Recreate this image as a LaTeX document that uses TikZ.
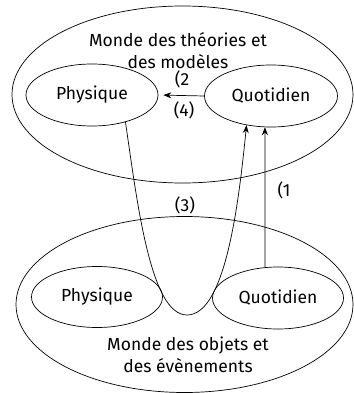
\documentclass[tikz,border=0pt]{standalone}
\usepackage{fontspec}
\setmainfont{Fira Sans}
\usetikzlibrary{shapes.geometric,arrows.meta,calc}
\begin{document}
\begin{tikzpicture}[x=1pt,y=-1pt,
  every node/.style={font=\fontsize{17.5}{22}\selectfont},
  ell/.style={draw,ellipse,inner sep=0pt,line width=0.7pt},
  lbl/.style={inner sep=0pt,align=center},
  arr/.style={line width=0.7pt,-{Stealth[length=8pt,width=6pt]}}]
\useasboundingbox (0,0) rectangle (353,393);
% top world
\node[ell,minimum width=341pt,minimum height=177pt] (tw) at (182.5,94.5) {};
\node[lbl] (twt) at (178,51) {Monde des théories et\\des modèles};
\node[ell,minimum width=132pt,minimum height=62pt] (tp) at (92,95) {Physique};
\node[ell,minimum width=133pt,minimum height=62pt] (tq) at (271,96) {Quotidien};
% bottom world
\node[ell,minimum width=337pt,minimum height=176pt] (bw) at (184.5,304.5) {};
\node[lbl] (bwt) at (188,355) {Monde des objets et\\des évènements};
\node[ell,minimum width=131pt,minimum height=61pt] (bp) at (97,297) {Physique};
\node[ell,minimum width=131pt,minimum height=62pt] (bq) at (278,298) {Quotidien};
\coordinate (low) at (187,315);
% connectors
\draw[arr,shorten >=5pt] (tq.west) -- (tp.east);
\node[lbl] (l2) at (182,79) {(2};
\node[lbl] (l4) at (184,110) {(4)};
\draw[arr] (bq.113) -- (tq.-101);
\node[lbl] (l1) at (284,190) {(1};
\draw[arr] (tp.-39) .. controls (137,200) and (150,315) .. (low)
  .. controls (226,315) and (239,200) .. (tq.-130);
\node[lbl] (l3) at (185,205) {(3)};
\end{tikzpicture}
\end{document}
